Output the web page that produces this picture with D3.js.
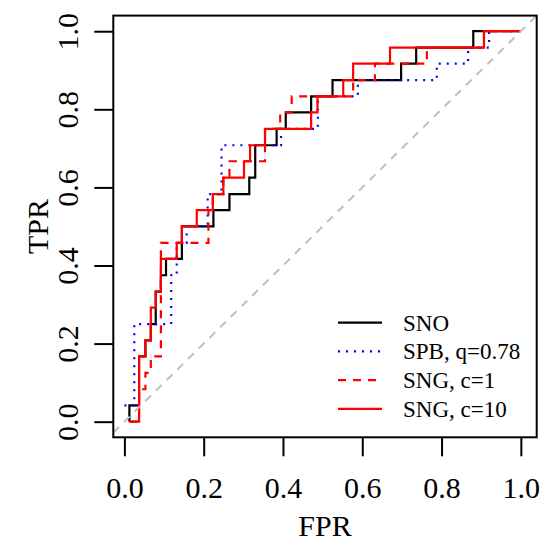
<!DOCTYPE html>
<html>
<head>
<meta charset="utf-8">
<script src="https://cdn.jsdelivr.net/npm/d3@7"></script>
<style>
body { margin: 0; background: #fff; }
text { font-family: "Liberation Serif", "Times New Roman", serif; fill: #000; }
</style>
</head>
<body>
<div id="chart"></div>
<script>
// Ejes
const xTicks = [0, 0.2, 0.4, 0.6, 0.8, 1];
const yTicks = [0, 0.2, 0.4, 0.6, 0.8, 1];
const tickLabels = ["0.0", "0.2", "0.4", "0.6", "0.8", "1.0"];

// Curvas ROC: cada punto es (FPR donde sube la curva, TPR tras el salto)
const snoFpr = [0.0126, 0.0126, 0.037, 0.053, 0.0666, 0.079, 0.092, 0.105, 0.145, 0.2245, 0.265, 0.315, 0.330, 0.384, 0.407, 0.471, 0.525, 0.698, 0.736, 0.880, 1];
const snoTpr = [0, 0.042, 0.167, 0.208, 0.25, 0.333, 0.375, 0.417, 0.5, 0.542, 0.583, 0.625, 0.708, 0.75, 0.792, 0.833, 0.875, 0.917, 0.958, 1, 1];

const spbFpr = [0, 0.025, 0.118, 0.132, 0.157, 0.21, 0.245, 0.395, 0.488, 0.589, 0.788, 0.867, 0.92, 1];
const spbTpr = [0.042, 0.25, 0.375, 0.458, 0.5, 0.583, 0.708, 0.75, 0.833, 0.875, 0.917, 0.958, 1, 1];

const sng1Fpr = [0.0126, 0.037, 0.053, 0.0666, 0.092, 0.212, 0.223, 0.2496, 0.265, 0.3547, 0.393, 0.422, 0.577, 0.632, 0.763, 0.907, 1];
const sng1Tpr = [0, 0.083, 0.125, 0.167, 0.458, 0.542, 0.583, 0.625, 0.667, 0.75, 0.792, 0.833, 0.875, 0.917, 0.958, 1, 1];

const sng10Fpr = [0.0126, 0.037, 0.053, 0.0666, 0.079, 0.092, 0.132, 0.145, 0.1825, 0.223, 0.2496, 0.3017, 0.317, 0.3547, 0.471, 0.487, 0.552, 0.577, 0.670, 0.907, 1];
const sng10Tpr = [0, 0.167, 0.208, 0.292, 0.333, 0.417, 0.458, 0.5, 0.542, 0.583, 0.625, 0.667, 0.708, 0.75, 0.792, 0.833, 0.875, 0.917, 0.958, 1, 1];

const seriesNames = ["SNO", "SPB, q=0.78", "SNG, c=1", "SNG, c=10"];

const width = 545, height = 544;

const series = [
	{ name: seriesNames[0], fpr: snoFpr, tpr: snoTpr, color: "#000000", dash: null },
	{ name: seriesNames[1], fpr: spbFpr, tpr: spbTpr, color: "#0000ff", dash: "2,6" },
	{ name: seriesNames[2], fpr: sng1Fpr, tpr: sng1Tpr, color: "#ff0000", dash: "8,7" },
	{ name: seriesNames[3], fpr: sng10Fpr, tpr: sng10Tpr, color: "#ff0000", dash: null }
];

// escalas con la extension del 4% de R
const xlim = [-0.028, 1.04], ylim = [-0.04, 1.04];
const x = d3.scaleLinear().domain(xlim).range([113.3, 536.7]);
const y = d3.scaleLinear().domain(ylim).range([437.3, 15.6]);

const svg = d3.select("#chart")
	.append("svg")
	.attr("width", width)
	.attr("height", height);

svg.append("clipPath")
	.attr("id", "plotclip")
	.append("rect")
	.attr("x", x(xlim[0]))
	.attr("y", y(ylim[1]))
	.attr("width", x(xlim[1]) - x(xlim[0]))
	.attr("height", y(ylim[0]) - y(ylim[1]));

const plot = svg.append("g").attr("clip-path", "url(#plotclip)");

// curvas en escalera
const line = d3.line()
	.x(function(d) { return x(d[0]); })
	.y(function(d) { return y(d[1]); })
	.curve(d3.curveStepAfter);

series.forEach(function(s) {
	const pts = s.fpr.map(function(f, i) { return [f, s.tpr[i]]; });
	plot.append("path")
		.attr("d", line(pts))
		.attr("fill", "none")
		.attr("stroke", s.color)
		.attr("stroke-width", 2.2)
		.attr("stroke-dasharray", s.dash);
});

// diagonal (abline 0,1)
plot.append("line")
	.attr("x1", x(xlim[0])).attr("y1", y(xlim[0]))
	.attr("x2", x(1.1)).attr("y2", y(1.1))
	.attr("stroke", "#bebebe")
	.attr("stroke-width", 2)
	.attr("stroke-dasharray", "8,7");

// caja
svg.append("rect")
	.attr("x", x(xlim[0]))
	.attr("y", y(ylim[1]))
	.attr("width", x(xlim[1]) - x(xlim[0]))
	.attr("height", y(ylim[0]) - y(ylim[1]))
	.attr("fill", "none")
	.attr("stroke", "#000")
	.attr("stroke-width", 2);

// eje X
const gx = svg.append("g")
	.attr("transform", "translate(0," + y(ylim[0]) + ")")
	.call(d3.axisBottom(x).tickValues(xTicks).tickSize(19).tickSizeOuter(0)
		.tickFormat(function(d, i) { return tickLabels[i]; }));
gx.select(".domain").remove();
gx.selectAll(".tick line").attr("stroke", "#000").attr("stroke-width", 2);
gx.selectAll(".tick text")
	.attr("y", 61)
	.attr("dy", null)
	.style("font-size", "30px")
	.style("font-family", "Liberation Serif");

// eje Y con etiquetas giradas
const gy = svg.append("g")
	.attr("transform", "translate(" + x(xlim[0]) + ",0)")
	.call(d3.axisLeft(y).tickValues(yTicks).tickSize(19).tickSizeOuter(0)
		.tickFormat(function(d, i) { return tickLabels[i]; }));
gy.select(".domain").remove();
gy.selectAll(".tick line").attr("stroke", "#000").attr("stroke-width", 2);
gy.selectAll(".tick text")
	.attr("x", null)
	.attr("dy", null)
	.attr("text-anchor", "middle")
	.attr("transform", "translate(-35.5,0) rotate(-90)")
	.style("font-size", "30px")
	.style("font-family", "Liberation Serif");

// titulos de ejes
svg.append("text")
	.attr("x", (x(xlim[0]) + x(xlim[1])) / 2)
	.attr("y", 536)
	.attr("text-anchor", "middle")
	.style("font-size", "30px")
	.text("FPR");

svg.append("text")
	.attr("transform", "translate(48," + ((y(ylim[0]) + y(ylim[1])) / 2) + ") rotate(-90)")
	.attr("text-anchor", "middle")
	.style("font-size", "30px")
	.text("TPR");

// leyenda
const legend = svg.append("g");
series.forEach(function(s, i) {
	const ly = 322.7 + i * 28.7;
	legend.append("line")
		.attr("x1", 338).attr("x2", 382)
		.attr("y1", ly).attr("y2", ly)
		.attr("stroke", s.color)
		.attr("stroke-width", 2.2)
		.attr("stroke-dasharray", s.dash);
	legend.append("text")
		.attr("x", 403)
		.attr("y", ly + 8)
		.style("font-size", "23px")
		.text(s.name);
});
</script>
</body>
</html>
